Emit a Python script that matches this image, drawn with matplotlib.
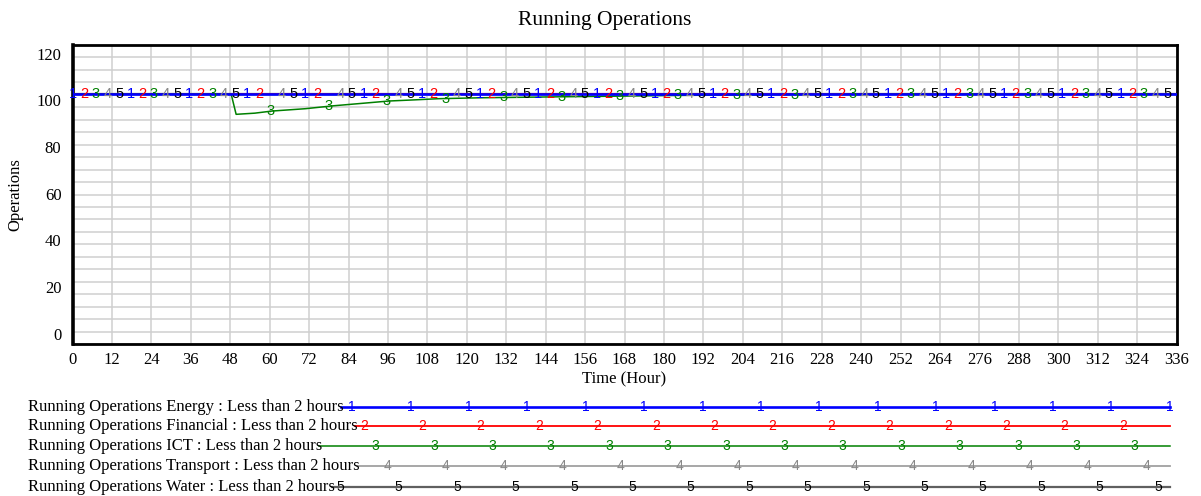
import matplotlib
matplotlib.use('Agg')
import matplotlib.pyplot as plt
import numpy as np

# values (hours, operations)
series_names = ['Energy', 'Financial', 'ICT', 'Transport', 'Water']
flat_hours = [0, 336]
energy = [100, 100]
financial = [100, 100]
transport = [100, 100]
water = [100, 100]
ict_hours = [0, 48.3, 49.8, 55.5, 60.7, 70.8, 79, 88.1, 96.3, 104.2, 111.5,
             124.6, 148, 167, 185, 202, 220, 250, 336]
ict = [100, 100, 91.4, 91.9, 92.8, 93.8, 95.0, 96.1, 97.1, 97.6, 98.1,
       98.5, 98.9, 99.2, 99.5, 99.7, 99.85, 100, 100]

x_ticks = list(range(0, 337, 12))
y_ticks = [0, 20, 40, 60, 80, 100, 120]

line_colors = ['#0000ff', '#ff0000', '#008000', '#a0a0a0', '#606060']
digit_colors = ['#0000ff', '#ff0000', '#008000', '#888888', '#000000']
line_widths = [1.9, 1.3, 1.1, 1.3, 1.6]

W, H = 1201, 496
serif = 'Liberation Serif'
sans = 'Liberation Sans'

fig = plt.figure(figsize=(W / 100, H / 100), dpi=100)
ax = fig.add_axes([72.5 / W, 1 - 344 / H, 1104 / W, 299 / H])

ylo, yhi = -7.0, 121.1
ax.set_xlim(0, 336)
ax.set_ylim(ylo, yhi)

# grid: vertical at every x tick, horizontal at 24 equal divisions
for xv in x_ticks:
    ax.axvline(xv, color='#cfcfcf', lw=1.1, zorder=0)
for yv in np.linspace(ylo, yhi, 25):
    ax.axhline(yv, color='#cfcfcf', lw=1.1, zorder=0)

data = [(flat_hours, energy), (flat_hours, financial), (ict_hours, ict),
        (flat_hours, transport), (flat_hours, water)]
zorders = [6, 3, 4, 2, 1]

# number markers like vensim: one every ~3.5 h, cycling through the series
period = 17.72
step = period / 5
for k, (hx, hy) in enumerate(data):
    ax.plot(hx, hy, color=line_colors[k], lw=line_widths[k], zorder=zorders[k])
    t = np.arange(k * step, 336.01, period)
    v = np.interp(t, hx, hy)
    for tt, vv in zip(t, v):
        ax.text(tt, vv, str(k + 1), color=digit_colors[k], fontsize=10.5,
                family=sans, ha='center', va='center', zorder=10)

ax.set_xticks(x_ticks)
ax.set_yticks(y_ticks)
ax.tick_params(length=0, labelsize=12)
ax.tick_params(axis='x', pad=6)
ax.tick_params(axis='y', pad=8)
for lab in ax.get_xticklabels() + ax.get_yticklabels():
    lab.set_family(serif)
for lab in ax.get_yticklabels():
    lab.set_va('top')

for side in ['top', 'right', 'bottom']:
    ax.spines[side].set_linewidth(2)
ax.spines['left'].set_linewidth(2.6)

ax.set_xlabel('Time (Hour)', family=serif, fontsize=12, labelpad=2)
ax.set_ylabel('Operations', family=serif, fontsize=12)
ax.yaxis.set_label_coords(-49 / 1104, 0.5)
fig.text(605 / W, 1 - 20 / H, 'Running Operations', family=serif,
         fontsize=15.5, ha='center', va='center')

# legend rows underneath, line starts where the text ends
legend_y = [407, 426, 446, 466, 487]
texts = []
for k, name in enumerate(series_names):
    texts.append(fig.text(28 / W, 1 - legend_y[k] / H,
                          'Running Operations ' + name + ' : Less than 2 hours',
                          family=serif, fontsize=12, ha='left', va='center'))
fig.canvas.draw()
renderer = fig.canvas.get_renderer()
for k, tx in enumerate(texts):
    x0 = tx.get_window_extent(renderer).x1 - 3
    yy = 1 - legend_y[k] / H
    fig.add_artist(plt.Line2D([x0 / W, 1170 / W], [yy, yy],
                              transform=fig.transFigure,
                              color=line_colors[k], lw=line_widths[k]))
    pos = np.arange(352 + k * 11.7 - 58.4, 1171, 58.4)
    for p in pos[pos >= x0]:
        fig.text(p / W, yy, str(k + 1), color=digit_colors[k], fontsize=10,
                 family=sans, ha='center', va='center')

fig.savefig('out.png', dpi=100)
